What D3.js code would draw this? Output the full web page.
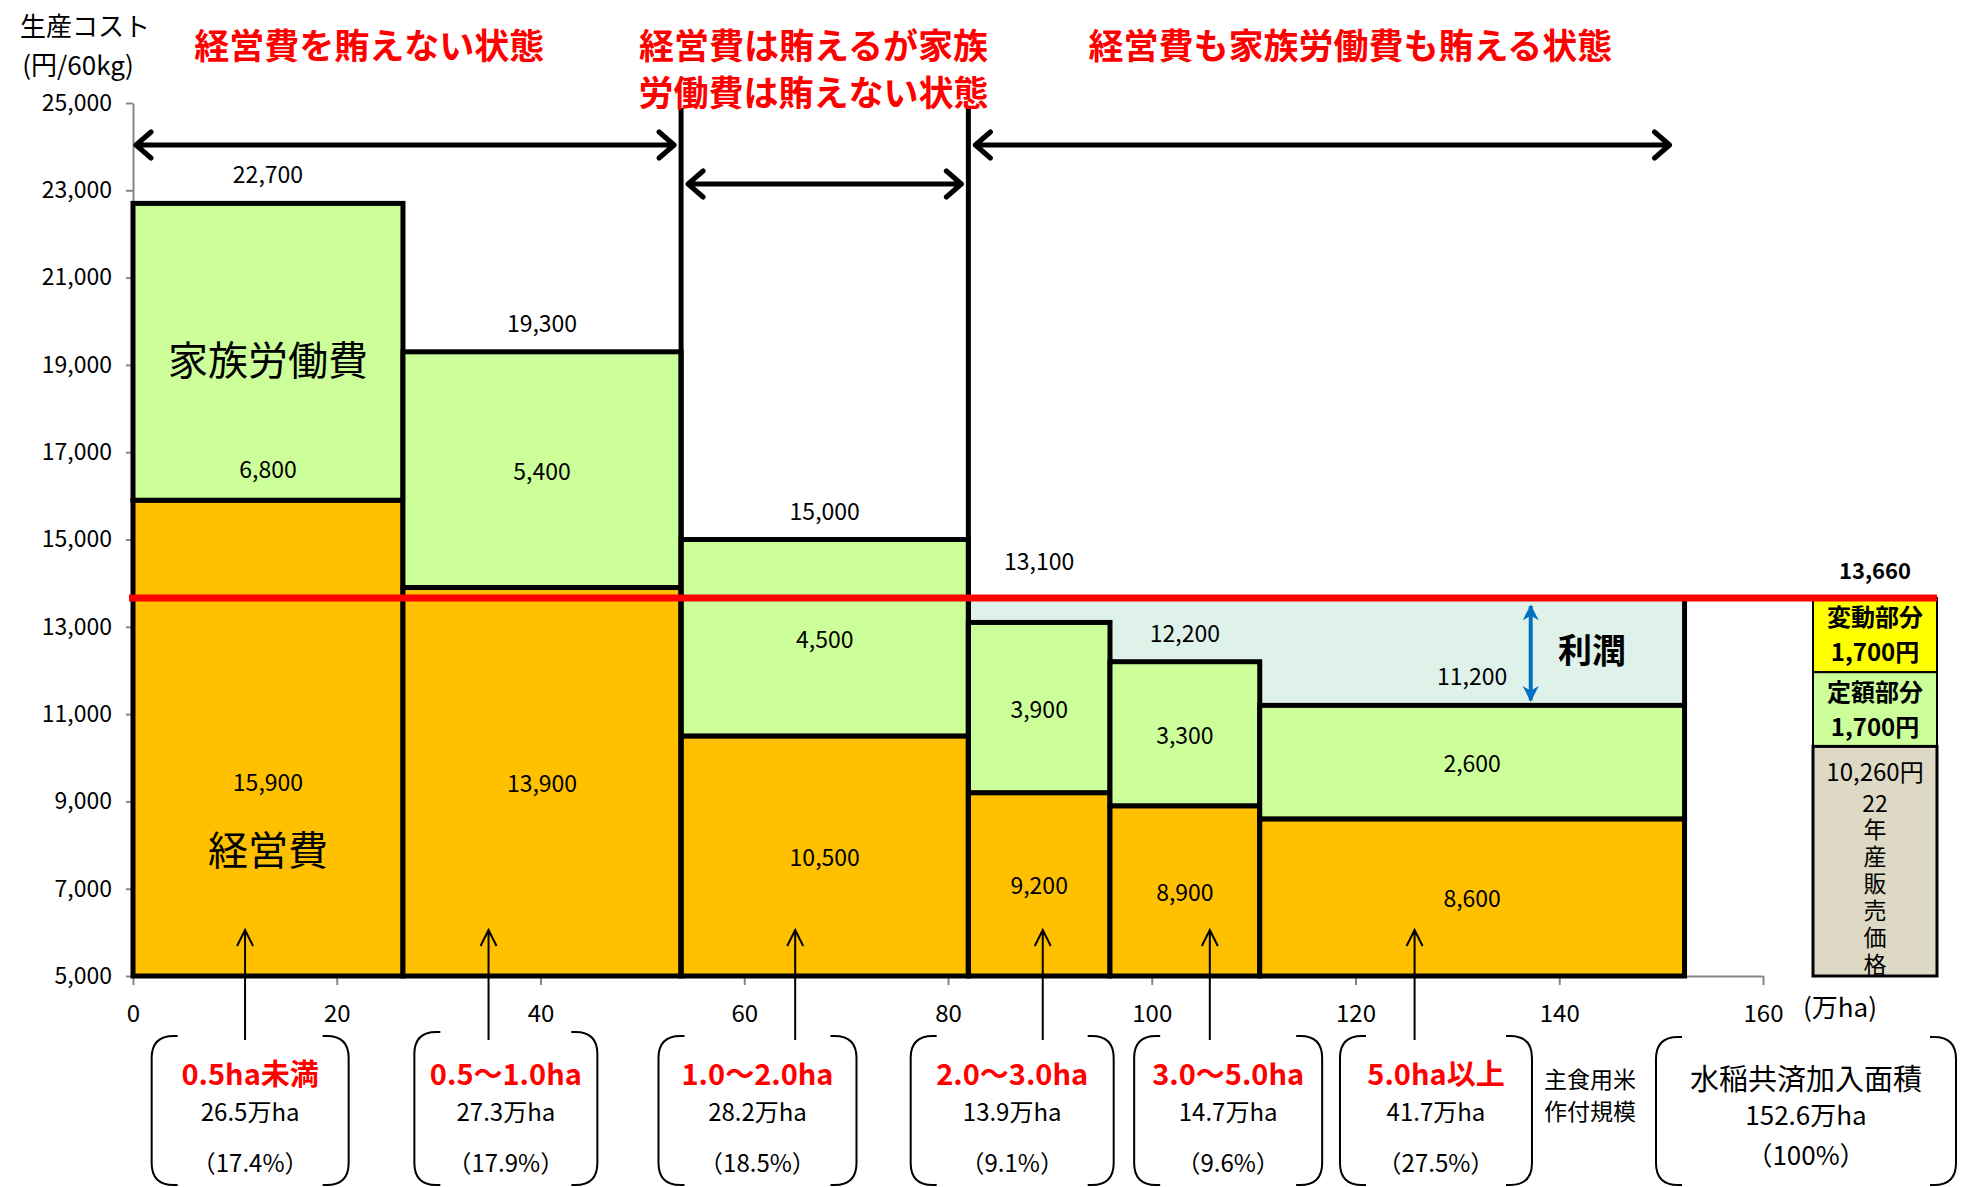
<!DOCTYPE html>
<html>
<head>
<meta charset="utf-8">
<script src="https://cdn.jsdelivr.net/npm/d3@7"></script>
<style>
body { margin: 0; background: #fff; }
svg text { font-family: "Noto Sans CJK JP", "Noto Sans", sans-serif; }
</style>
</head>
<body>
<div class="chart"></div>
<script>
// ---- data ----
var sizeClasses = ["0.5ha未満", "0.5～1.0ha", "1.0～2.0ha", "2.0～3.0ha", "3.0～5.0ha", "5.0ha以上"];
var areas = [26.5, 27.3, 28.2, 13.9, 14.7, 41.7];          // 万ha
var shares = [17.4, 17.9, 18.5, 9.1, 9.6, 27.5];            // %
var operatingCost = [15900, 13900, 10500, 9200, 8900, 8600]; // 経営費
var familyLabor = [6800, 5400, 4500, 3900, 3300, 2600];      // 家族労働費
var salePrice = 13660;
var pricePartNames = ["変動部分", "定額部分", "22年産販売価格"];
var pricePartValues = [1700, 1700, 10260];
var insuredArea = 152.6;
var stateTitles = [["経営費を賄えない状態"], ["経営費は賄えるが家族", "労働費は賄えない状態"], ["経営費も家族労働費も賄える状態"]];
var yTicks = d3.range(5000, 25001, 2000);
var xTicks = d3.range(0, 161, 20);

// ---- layout (axis units / px) ----
var titleX = [23.2, 66.8, 119.5];
var boxCenter = [11.5, 36.6, 61.3, 86.3, 107.5, 127.9];
var boxWidth = [197, 183, 198, 203, 188, 192];
var arrowX = [11.0, 34.9, 65.0, 89.3, 105.7, 125.8];

var fmt = d3.format(",");
var svg = d3.select(".chart").append("svg")
    .attr("width", 1961)
    .attr("height", 1187);

var x = d3.scaleLinear().domain([0, 160]).range([133, 1763]);
var y = d3.scaleLinear().domain([5000, 25000]).range([976, 103]);

var starts = [0].concat(Array.from(d3.cumsum(areas)));
var bars = areas.map(function(a, i){
    return {i: i, x0: starts[i], x1: starts[i + 1], op: operatingCost[i], fam: familyLabor[i],
            total: operatingCost[i] + familyLabor[i]};
});
var lastX = starts[starts.length - 1];

// profit zone
svg.append("rect")
    .attr("x", x(starts[3]))
    .attr("y", y(salePrice))
    .attr("width", x(lastX) - x(starts[3]))
    .attr("height", y(5000) - y(salePrice))
    .attr("fill", "#DEF2EA");

// axes
function styleAxis(g, size){
    g.attr("font-family", null).attr("font-size", size);
    g.selectAll(".domain, .tick line").attr("stroke", "#868686").attr("stroke-width", 2);
    g.selectAll("text").attr("fill", "#000");
}
svg.append("g")
    .attr("transform", "translate(" + x(0) + ",0)")
    .call(d3.axisLeft(y).tickValues(yTicks).tickFormat(fmt).tickSize(7).tickSizeOuter(0).tickPadding(14))
    .call(styleAxis, 23);
svg.append("g")
    .attr("transform", "translate(0," + y(5000) + ")")
    .call(d3.axisBottom(x).tickValues(xTicks).tickSize(9).tickSizeOuter(0).tickPadding(20))
    .call(styleAxis, 24);

// bars
var bar = svg.selectAll(".bar").data(bars).enter().append("g").attr("class", "bar");
bar.append("rect")
    .attr("x", function(d){ return x(d.x0); })
    .attr("y", function(d){ return y(d.op); })
    .attr("width", function(d){ return x(d.x1) - x(d.x0); })
    .attr("height", function(d){ return y(5000) - y(d.op); })
    .attr("fill", "#FFC000").attr("stroke", "#000").attr("stroke-width", 5);
bar.append("rect")
    .attr("x", function(d){ return x(d.x0); })
    .attr("y", function(d){ return y(d.total); })
    .attr("width", function(d){ return x(d.x1) - x(d.x0); })
    .attr("height", function(d){ return y(d.op) - y(d.total); })
    .attr("fill", "#CCFF99").attr("stroke", "#000").attr("stroke-width", 5);

// right edge of profit zone
svg.append("line")
    .attr("x1", x(lastX)).attr("x2", x(lastX))
    .attr("y1", y(salePrice)).attr("y2", y(bars[5].total))
    .attr("stroke", "#000").attr("stroke-width", 5);

// dividers between states
[starts[2], starts[3]].forEach(function(v){
    svg.append("line")
        .attr("x1", x(v)).attr("x2", x(v))
        .attr("y1", 108).attr("y2", y(5000) + 2)
        .attr("stroke", "#000").attr("stroke-width", 5);
});

// double arrows
function doubleArrow(x1, x2, yy){
    var h = 13, l = 15;
    svg.append("path")
        .attr("d", "M" + x1 + "," + yy + "H" + x2 +
            "M" + (x1 + l) + "," + (yy - h) + "L" + x1 + "," + yy + "L" + (x1 + l) + "," + (yy + h) +
            "M" + (x2 - l) + "," + (yy - h) + "L" + x2 + "," + yy + "L" + (x2 - l) + "," + (yy + h))
        .attr("fill", "none").attr("stroke", "#000").attr("stroke-width", 5)
        .attr("stroke-linecap", "round").attr("stroke-linejoin", "round");
}
doubleArrow(x(0) + 3, x(starts[2]) - 7, 145);
doubleArrow(x(starts[2]) + 7, x(starts[3]) - 7, 184);
doubleArrow(x(starts[3]) + 7, x(lastX) - 15, 145);

// titles
stateTitles.forEach(function(lines, k){
    lines.forEach(function(t, j){
        svg.append("text")
            .attr("x", x(titleX[k])).attr("y", 43 + j * 47)
            .attr("text-anchor", "middle").attr("dominant-baseline", "central")
            .attr("font-size", 35).attr("font-weight", "bold").attr("fill", "#FF0000")
            .text(t);
    });
});

// axis titles
svg.append("text").attr("x", 85).attr("y", 24).attr("text-anchor", "middle")
    .attr("dominant-baseline", "central").attr("font-size", 26).text("生産コスト");
svg.append("text").attr("x", 78).attr("y", 63).attr("text-anchor", "middle")
    .attr("dominant-baseline", "central").attr("font-size", 26).text("(円/60kg)");
svg.append("text").attr("x", 1840).attr("y", 1005).attr("text-anchor", "middle")
    .attr("dominant-baseline", "central").attr("font-size", 26).text("(万ha)");

// bar labels
function label(tx, ty, t, size, weight){
    return svg.append("text").attr("x", tx).attr("y", ty)
        .attr("text-anchor", "middle").attr("dominant-baseline", "central")
        .attr("font-size", size || 23).attr("font-weight", weight || "normal")
        .attr("fill", "#000").text(t);
}
bars.forEach(function(d, i){
    var cx = x((d.x0 + d.x1) / 2);
    var ty = y(d.total) - 30;
    if (Math.abs(ty - y(salePrice)) < 25) ty = y(salePrice) - 38;
    label(cx, ty, fmt(d.total));
    if (i === 0) {
        label(cx, y(d.op + d.fam * 0.11), fmt(d.fam));
        label(cx, y(d.op + d.fam * 0.48), "家族労働費", 40);
        label(cx, y(5000 + (d.op - 5000) * 0.41), fmt(d.op));
        label(cx, y(5000 + (d.op - 5000) * 0.27), "経営費", 40);
    } else {
        label(cx, y(d.op + d.fam / 2), fmt(d.fam));
        label(cx, y((d.op + 5000) / 2), fmt(d.op));
    }
});

// profit arrow
var defs = svg.append("defs");
defs.append("marker").attr("id", "bh").attr("viewBox", "0 0 10 10")
    .attr("refX", 9).attr("refY", 5).attr("markerWidth", 4).attr("markerHeight", 5)
    .attr("orient", "auto-start-reverse").attr("markerUnits", "strokeWidth")
    .append("path").attr("d", "M0,0 L10,5 L0,10 L3,5 Z").attr("fill", "#0070C0");
svg.append("line")
    .attr("x1", x(137.2)).attr("x2", x(137.2))
    .attr("y1", y(salePrice) + 8).attr("y2", y(bars[5].total) - 5)
    .attr("stroke", "#0070C0").attr("stroke-width", 4)
    .attr("marker-start", "url(#bh)").attr("marker-end", "url(#bh)");
label(1592, 648, "利潤", 34, "bold");

// price composition (right side), stacked down from the sale price
var px0 = 1813, px1 = 1937;
var partFill = ["#FFFF00", "#CCFF99", "#DDD9C4"];
var level = salePrice;
pricePartValues.forEach(function(v, k){
    var bottom = Math.max(level - v, y.domain()[0]);
    svg.append("rect")
        .attr("x", px0).attr("y", y(level))
        .attr("width", px1 - px0).attr("height", y(bottom) - y(level))
        .attr("fill", partFill[k]).attr("stroke", "#000").attr("stroke-width", k === 2 ? 3 : 2);
    var cx = (px0 + px1) / 2;
    if (k < 2) {
        label(cx, y(level) + 18, pricePartNames[k], 24, "bold");
        label(cx, y(level) + 53, fmt(v) + "円", 24, "bold");
    } else {
        label(cx, y(level) + 24, fmt(v) + "円", 24);
        label(cx, y(level) + 56, "22", 23);
        // rest of the name written top-to-bottom
        svg.append("text")
            .attr("x", cx).attr("y", y(level) + 71)
            .attr("writing-mode", "vertical-rl")
            .style("text-orientation", "upright")
            .attr("letter-spacing", 4)
            .attr("font-size", 23).attr("fill", "#000")
            .text(pricePartNames[k].replace("22", ""));
    }
    level -= v;
});
label((px0 + px1) / 2, 569, fmt(salePrice), 22, "bold");

// sale price line
svg.append("line")
    .attr("x1", 129).attr("x2", px1)
    .attr("y1", y(salePrice)).attr("y2", y(salePrice))
    .attr("stroke", "#FF0000").attr("stroke-width", 7);

// callout brackets
function bracketBox(cx, w, t, b){
    var l = cx - w / 2, r = cx + w / 2, rad = 22, stub = 26;
    var d = "M" + (l + stub) + "," + t + "L" + (l + rad) + "," + t +
        "Q" + l + "," + t + " " + l + "," + (t + rad) + "L" + l + "," + (b - rad) +
        "Q" + l + "," + b + " " + (l + rad) + "," + b + "L" + (l + stub) + "," + b +
        "M" + (r - stub) + "," + t + "L" + (r - rad) + "," + t +
        "Q" + r + "," + t + " " + r + "," + (t + rad) + "L" + r + "," + (b - rad) +
        "Q" + r + "," + b + " " + (r - rad) + "," + b + "L" + (r - stub) + "," + b;
    svg.append("path").attr("d", d).attr("fill", "none").attr("stroke", "#000").attr("stroke-width", 2);
}
sizeClasses.forEach(function(c, i){
    var cx = x(boxCenter[i]);
    bracketBox(cx, boxWidth[i], i === 1 ? 1032 : 1036, 1185);
    label(cx, 1072, c, 29, "bold").attr("fill", "#FF0000");
    label(cx, 1110, areas[i] + "万ha", 24);
    label(cx, 1161, "（" + shares[i] + "%）", 24);
    // arrow up into bar
    var ax = x(arrowX[i]), tip = 930;
    svg.append("path")
        .attr("d", "M" + ax + "," + 1040 + "V" + tip + "M" + (ax - 8) + "," + (tip + 16) + "L" + ax + "," + tip + "L" + (ax + 8) + "," + (tip + 16))
        .attr("fill", "none").attr("stroke", "#000").attr("stroke-width", 2);
});
label(1590, 1078, "主食用米", 23);
label(1590, 1110, "作付規模", 23);
bracketBox(1806, 300, 1037, 1185);
label(1806, 1077, "水稲共済加入面積", 29);
label(1806, 1113, insuredArea + "万ha", 26);
label(1806, 1153, "（100%）", 26);
</script>
</body>
</html>
